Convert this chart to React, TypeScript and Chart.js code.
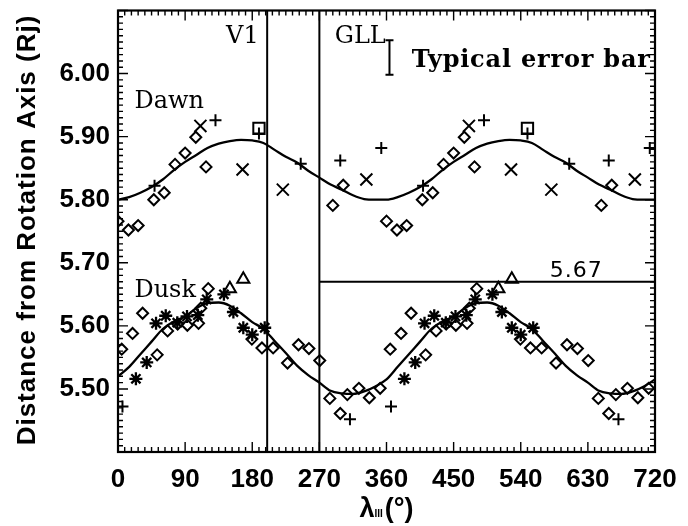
import React, { useEffect, useRef } from 'react';
import { Chart, registerables } from 'chart.js';

Chart.register(...registerables);

// ---- data (longitude in degrees, distance in Rj); one 0-360 cycle, plotted twice ----
const curveLon = [0, 15, 30, 45, 60, 75, 90, 105, 120, 135, 150, 165, 180, 195, 210, 225, 240, 255, 270, 285, 300, 315, 330, 345, 360];
const dawnCurve = [5.800, 5.804, 5.811, 5.820, 5.832, 5.847, 5.860, 5.871, 5.882, 5.889, 5.893, 5.895, 5.894, 5.890, 5.879, 5.868, 5.859, 5.846, 5.835, 5.824, 5.816, 5.807, 5.801, 5.800, 5.800];
const duskCurve = [5.520, 5.535, 5.555, 5.575, 5.595, 5.607, 5.615, 5.628, 5.636, 5.637, 5.632, 5.620, 5.606, 5.595, 5.576, 5.557, 5.537, 5.522, 5.510, 5.497, 5.493, 5.492, 5.496, 5.504, 5.515];

const dawnDiamonds: [number, number][] = [
  [0, 5.766], [14, 5.752], [27, 5.759], [48, 5.800], [62, 5.811], [76.5, 5.856], [90, 5.874],
  [104.3, 5.899], [118, 5.852], [288, 5.791], [302, 5.823],
];
const dawnPlus: [number, number][] = [
  [49, 5.822], [130.7, 5.926], [189, 5.905], [245, 5.857], [298, 5.862], [353, 5.882],
];
const dawnCross: [number, number][] = [
  [110.5, 5.917], [167, 5.848], [221, 5.816], [333, 5.832],
];
const dawnSquare: [number, number][] = [[189, 5.913]];

const duskDiamonds: [number, number][] = [
  [5, 5.563], [19.5, 5.588], [33, 5.620], [52.5, 5.554], [66.5, 5.592], [80, 5.603], [93, 5.601],
  [108, 5.604], [111, 5.628], [121, 5.659], [179.5, 5.579], [193, 5.565], [208, 5.565],
  [227.3, 5.541], [242, 5.570], [256, 5.564], [270.5, 5.545], [284, 5.485], [298, 5.461],
  [307.5, 5.491], [323, 5.501], [337, 5.486], [351.5, 5.501],
];
const duskStars: [number, number][] = [
  [24, 5.516], [38.5, 5.542], [51, 5.604], [64, 5.616], [79.5, 5.605], [92.5, 5.615], [107, 5.617],
  [119, 5.642], [142, 5.650], [154.7, 5.622], [168, 5.597], [180, 5.586], [196.7, 5.597],
];
const duskTriangles: [number, number][] = [[150, 5.659], [168, 5.674]];
const duskPlus: [number, number][] = [[6, 5.472], [311, 5.452]];

const xTickValues = [0, 90, 180, 270, 360, 450, 540, 630, 720];
const yTickValues = [5.5, 5.6, 5.7, 5.8, 5.9, 6.0];
const spacecraftLon = [200, 270]; // V1, GLL boundaries
const refLevel = 5.67;
const errorBar = { lon: 364, low: 5.998, high: 6.053 };

type Note = { text: string; x: number; y: number; align: CanvasTextAlign; font: string; spacing?: string };
const notes: Note[] = [
  { text: 'V1', x: 188.6, y: 6.048, align: 'right', font: '24px "DejaVu Serif"' },
  { text: 'GLL', x: 290.6, y: 6.048, align: 'left', font: '24px "DejaVu Serif"' },
  { text: 'Typical error bar', x: 394, y: 6.011, align: 'left', font: 'bold 24px "DejaVu Serif"', spacing: '0.8px' },
  { text: 'Dawn', x: 22, y: 5.946, align: 'left', font: '24px "DejaVu Serif"' },
  { text: 'Dusk', x: 22, y: 5.645, align: 'left', font: '24px "DejaVu Serif"' },
  { text: '5.67', x: 579, y: 5.677, align: 'left', font: '22px "DejaVu Sans"', spacing: '1px' },
];

const twoCycles = (pts: [number, number][]) =>
  pts.flatMap(([x, y]) => [{ x, y }, { x: x + 360, y }]).filter((p) => p.x <= 720);

const curveTwice = (vals: number[]) => {
  const first = curveLon.map((x, i) => ({ x, y: vals[i] }));
  const second = curveLon.slice(1).map((x, i) => ({ x: x + 360, y: vals[i + 1] }));
  return [...first, ...second];
};

const markerBase = {
  showLine: false,
  pointBorderColor: '#000',
  pointBackgroundColor: 'rgba(0,0,0,0)',
  pointBorderWidth: 2,
};

const zeroPadding = (s: any) => {
  s.paddingTop = 0;
  s.paddingBottom = 0;
  s.paddingLeft = 0;
  s.paddingRight = 0;
};

const decorations = {
  id: 'decorations',
  afterDraw(chart: any) {
    const { ctx, chartArea: a, scales } = chart;
    const xs = scales.x;
    const ys = scales.y;
    ctx.save();
    ctx.strokeStyle = '#000';
    ctx.fillStyle = '#000';

    // vertical boundary lines
    ctx.lineWidth = 2;
    spacecraftLon.forEach((lon) => {
      const px = xs.getPixelForValue(lon);
      ctx.beginPath();
      ctx.moveTo(px, a.top);
      ctx.lineTo(px, a.bottom);
      ctx.stroke();
    });
    // 5.67 reference line from GLL boundary to end
    const ry = ys.getPixelForValue(refLevel);
    ctx.beginPath();
    ctx.moveTo(xs.getPixelForValue(spacecraftLon[1]), ry);
    ctx.lineTo(a.right, ry);
    ctx.stroke();

    // error bar
    ctx.lineWidth = 2;
    const ex = xs.getPixelForValue(errorBar.lon);
    const e1 = ys.getPixelForValue(errorBar.high);
    const e2 = ys.getPixelForValue(errorBar.low);
    ctx.beginPath();
    ctx.moveTo(ex, e1);
    ctx.lineTo(ex, e2);
    ctx.moveTo(ex - 4, e1);
    ctx.lineTo(ex + 4, e1);
    ctx.moveTo(ex - 4, e2);
    ctx.lineTo(ex + 4, e2);
    ctx.stroke();

    // inward ticks on all four sides
    ctx.lineWidth = 1.4;
    const major = 10;
    const minor = 5;
    for (let i = 0; i <= 80; i++) {
      const v = i * 9;
      const px = xs.getPixelForValue(v);
      const len = v % 90 === 0 ? major : minor;
      ctx.beginPath();
      ctx.moveTo(px, a.bottom);
      ctx.lineTo(px, a.bottom - len);
      ctx.moveTo(px, a.top);
      ctx.lineTo(px, a.top + len);
      ctx.stroke();
    }
    for (let i = 0; i <= 70; i++) {
      const v = 5.4 + i * 0.01;
      const py = ys.getPixelForValue(v);
      const len = i % 10 === 0 ? major : minor;
      ctx.beginPath();
      ctx.moveTo(a.left, py);
      ctx.lineTo(a.left + len, py);
      ctx.moveTo(a.right, py);
      ctx.lineTo(a.right - len, py);
      ctx.stroke();
    }

    // frame
    ctx.lineWidth = 2.2;
    ctx.strokeRect(a.left, a.top, a.right - a.left, a.bottom - a.top);

    // notes
    ctx.textBaseline = 'alphabetic';
    notes.forEach((n) => {
      ctx.font = n.font;
      (ctx as any).letterSpacing = n.spacing || '0px';
      ctx.textAlign = n.align;
      ctx.fillText(n.text, xs.getPixelForValue(n.x), ys.getPixelForValue(n.y));
    });
    (ctx as any).letterSpacing = '0px';

    // y title
    ctx.save();
    ctx.translate(35, 230);
    ctx.rotate(-Math.PI / 2);
    ctx.font = 'bold 26px "Liberation Sans"';
    (ctx as any).letterSpacing = '1px';
    ctx.textAlign = 'center';
    ctx.fillText('Distance from Rotation Axis (Rj)', 0, 0);
    ctx.restore();
    (ctx as any).letterSpacing = '0px';

    // x title: lambda with small III subscript
    const cx = (a.left + a.right) / 2;
    const base = 517;
    ctx.textAlign = 'left';
    ctx.font = 'bold 27px "Liberation Sans"';
    const wL = ctx.measureText('λ').width;
    const wP = ctx.measureText('(°)').width;
    ctx.font = 'bold 10px "Liberation Sans"';
    const wS = ctx.measureText('III').width;
    const total = wL + wS + 2 + wP;
    let x0 = cx - total / 2;
    ctx.font = 'bold 27px "Liberation Sans"';
    ctx.fillText('λ', x0, base);
    x0 += wL;
    ctx.font = 'bold 10px "Liberation Sans"';
    ctx.fillText('III', x0, base);
    x0 += wS + 2;
    ctx.font = 'bold 27px "Liberation Sans"';
    ctx.fillText('(°)', x0, base);

    ctx.restore();
  },
};

export default function App() {
  const ref = useRef<HTMLCanvasElement | null>(null);

  useEffect(() => {
    document.body.style.margin = '0';
    if (!ref.current) return;
    const tickFont = { family: '"Liberation Sans"', size: 26, weight: 'bold' as const };
    const chart = new Chart(ref.current, {
      type: 'scatter',
      data: {
        datasets: [
          {
            label: 'Dawn model',
            data: curveTwice(dawnCurve),
            showLine: true,
            borderColor: '#000',
            borderWidth: 2.3,
            pointRadius: 0,
            cubicInterpolationMode: 'monotone',
          } as any,
          {
            label: 'Dusk model',
            data: curveTwice(duskCurve),
            showLine: true,
            borderColor: '#000',
            borderWidth: 2.3,
            pointRadius: 0,
            cubicInterpolationMode: 'monotone',
          } as any,
          { ...markerBase, label: 'Dawn ◇', data: twoCycles(dawnDiamonds), pointStyle: 'rectRot', pointRadius: 5.5 },
          { ...markerBase, label: 'Dawn +', data: twoCycles(dawnPlus), pointStyle: 'cross', pointRadius: 6 },
          { ...markerBase, label: 'Dawn ×', data: twoCycles(dawnCross), pointStyle: 'crossRot', pointRadius: 8.5 },
          { ...markerBase, label: 'Dawn □', data: twoCycles(dawnSquare), pointStyle: 'rect', pointRadius: 8 },
          { ...markerBase, label: 'Dusk ◇', data: twoCycles(duskDiamonds), pointStyle: 'rectRot', pointRadius: 5.5 },
          { ...markerBase, label: 'Dusk ✱', data: twoCycles(duskStars), pointStyle: 'star', pointRadius: 6.5, pointBorderWidth: 2.3 },
          { ...markerBase, label: 'Dusk △', data: twoCycles(duskTriangles), pointStyle: 'triangle', pointRadius: 7 },
          { ...markerBase, label: 'Dusk +', data: twoCycles(duskPlus), pointStyle: 'cross', pointRadius: 6 },
        ],
      },
      options: {
        responsive: false,
        animation: false,
        devicePixelRatio: 1,
        layout: { padding: { left: 0, right: 33, top: 10, bottom: 0 } },
        plugins: { legend: { display: false }, tooltip: { enabled: false } },
        scales: {
          x: {
            type: 'linear',
            min: 0,
            max: 720,
            grid: { display: false, drawTicks: false },
            border: { display: false },
            afterBuildTicks: (s: any) => {
              s.ticks = xTickValues.map((v) => ({ value: v }));
            },
            afterFit: (s: any) => {
              s.height = 74;
              zeroPadding(s);
            },
            ticks: {
              color: '#000',
              font: tickFont,
              padding: 12,
              maxRotation: 0,
              autoSkip: false,
              callback: (v: any) => String(v),
            },
          },
          y: {
            type: 'linear',
            min: 5.4,
            max: 6.1,
            grid: { display: false, drawTicks: false },
            border: { display: false },
            afterBuildTicks: (s: any) => {
              s.ticks = yTickValues.map((v) => ({ value: v }));
            },
            afterFit: (s: any) => {
              s.width = 118;
              zeroPadding(s);
            },
            ticks: {
              color: '#000',
              font: tickFont,
              padding: 8,
              autoSkip: false,
              callback: (v: any) => Number(v).toFixed(2),
            },
          },
        },
      },
      plugins: [decorations],
    });
    return () => chart.destroy();
  }, []);

  return <canvas ref={ref} width={688} height={526} style={{ display: 'block' }} />;
}
